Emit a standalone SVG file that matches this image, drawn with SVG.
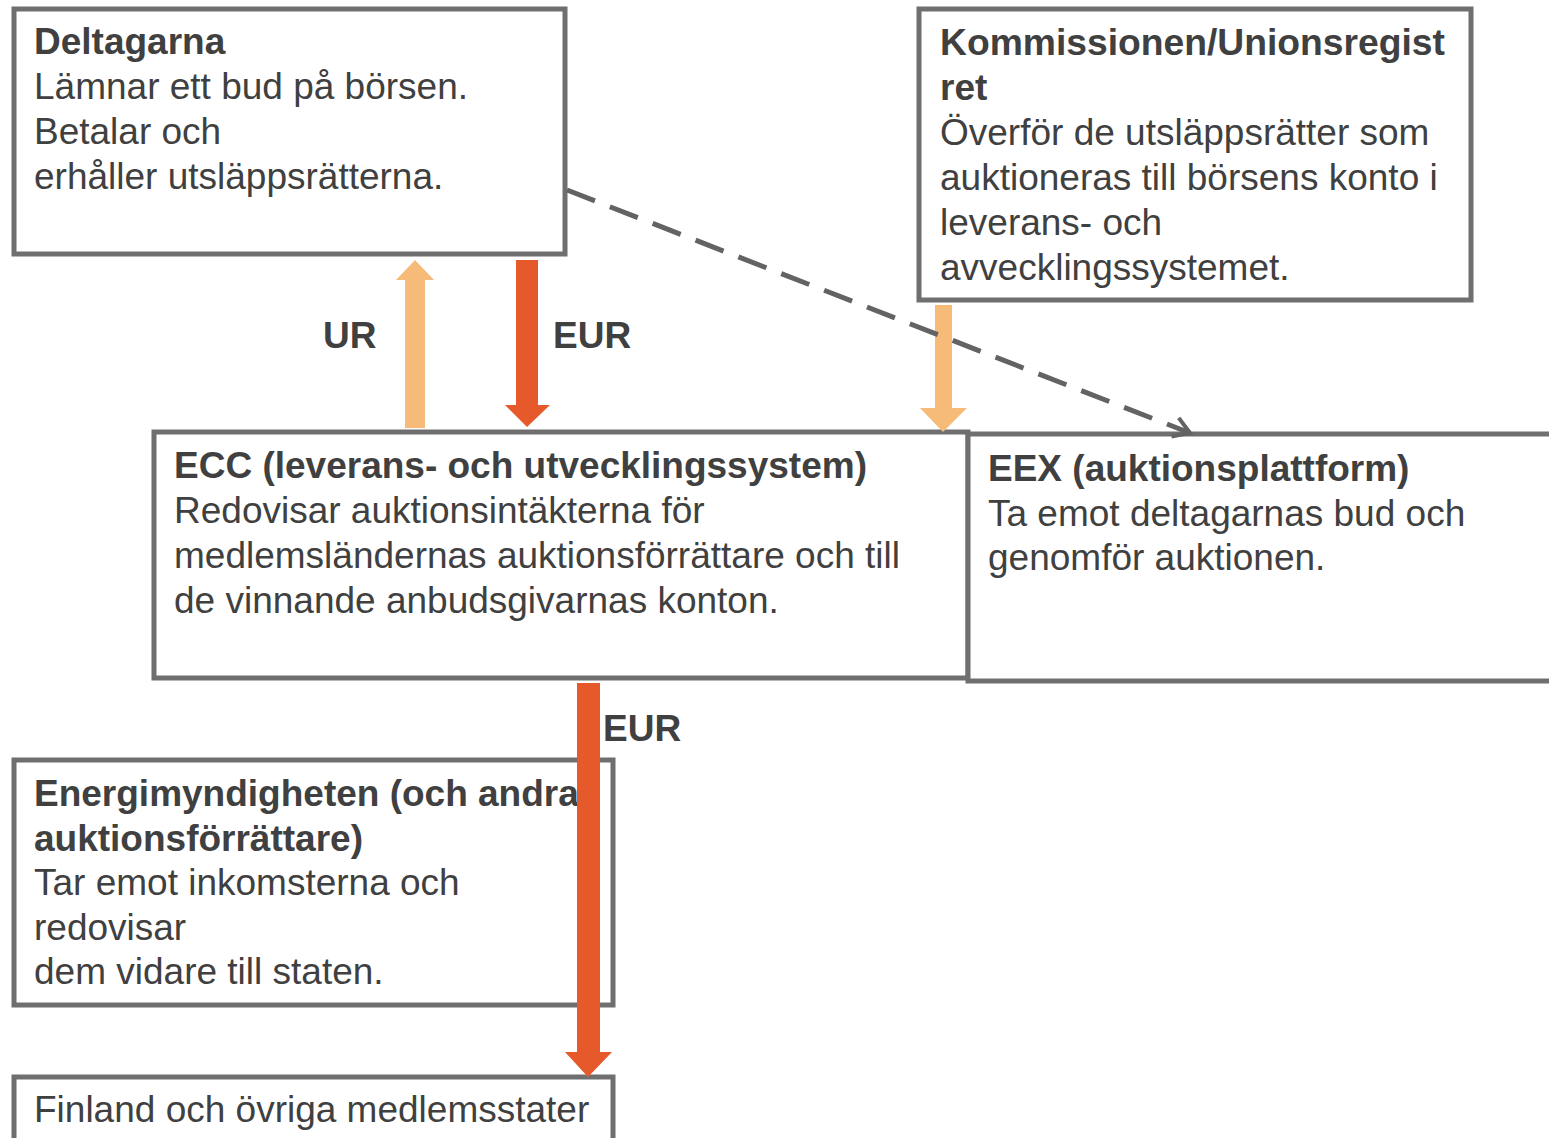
<svg xmlns="http://www.w3.org/2000/svg" width="1549" height="1138" viewBox="0 0 1549 1138">
<style>
.box{fill:#fff;stroke:#6f6f6f;stroke-width:5}
text{font-family:"Liberation Sans",Arial,sans-serif;font-size:37px;fill:#404040}
.b{font-weight:bold}
.light{fill:#f6bb78}
.dark{fill:#e5592a}
</style>
<defs>
<marker id="open" markerWidth="24" markerHeight="24" refX="20" refY="12" orient="auto" markerUnits="userSpaceOnUse" viewBox="0 0 24 24">
<path d="M4,2 L20,12 L4,22" fill="none" stroke="#636363" stroke-width="4"/>
</marker>
</defs>
<g id="n-deltagarna">
<rect class="box" x="14" y="9" width="551" height="245"/>
<text class="b" x="34" y="54">Deltagarna</text>
<text x="34" y="99">Lämnar ett bud på börsen.</text>
<text x="34" y="144">Betalar och</text>
<text x="34" y="189">erhåller utsläppsrätterna.</text>
</g>
<g id="n-kommissionen">
<rect class="box" x="919" y="9" width="552" height="291"/>
<text class="b" x="940" y="55" textLength="505" lengthAdjust="spacingAndGlyphs">Kommissionen/Unionsregist</text>
<text class="b" x="940" y="100">ret</text>
<text x="940" y="145">Överför de utsläppsrätter som</text>
<text x="940" y="190">auktioneras till börsens konto i</text>
<text x="940" y="235">leverans- och</text>
<text x="940" y="280">avvecklingssystemet.</text>
</g>
<g id="n-ecc">
<rect class="box" x="154" y="432" width="814" height="246"/>
<text class="b" x="174" y="478">ECC (leverans- och utvecklingssystem)</text>
<text x="174" y="523">Redovisar auktionsintäkterna för</text>
<text x="174" y="568">medlemsländernas auktionsförrättare och till</text>
<text x="174" y="613">de vinnande anbudsgivarnas konton.</text>
</g>
<g id="n-eex">
<rect class="box" x="968" y="434" width="600" height="247"/>
<text class="b" x="988" y="481">EEX (auktionsplattform)</text>
<text x="988" y="526">Ta emot deltagarnas bud och</text>
<text x="988" y="570">genomför auktionen.</text>
</g>
<g id="n-energimyndigheten">
<rect class="box" x="14" y="760" width="599" height="245"/>
<text class="b" x="34" y="806">Energimyndigheten (och andra</text>
<text class="b" x="34" y="851">auktionsförrättare)</text>
<text x="34" y="895">Tar emot inkomsterna och</text>
<text x="34" y="940">redovisar</text>
<text x="34" y="984">dem vidare till staten.</text>
</g>
<g id="n-finland">
<rect class="box" x="14" y="1077" width="599" height="80"/>
<text x="34" y="1122">Finland och övriga medlemsstater</text>
</g>
<g id="connectors">
<polygon class="light" points="405,428 425,428 425,280 434,280 415,260 396,280 405,280"/>
<polygon class="dark" points="516,260 538,260 538,405 550,405 527,427 505,405 516,405"/>
<polygon class="light" points="935,305 952,305 952,408 967,408 943,432 920,408 935,408"/>
<line x1="567" y1="190" x2="1190" y2="433" stroke="#636363" stroke-width="5" stroke-dasharray="30,16" marker-end="url(#open)"/>
<polygon class="dark" points="577,683 600,683 600,1052 612,1052 588,1077 565,1052 577,1052"/>
<text class="b" x="323" y="348">UR</text>
<text class="b" x="553" y="348">EUR</text>
<text class="b" x="603" y="741">EUR</text>
</g>
</svg>
